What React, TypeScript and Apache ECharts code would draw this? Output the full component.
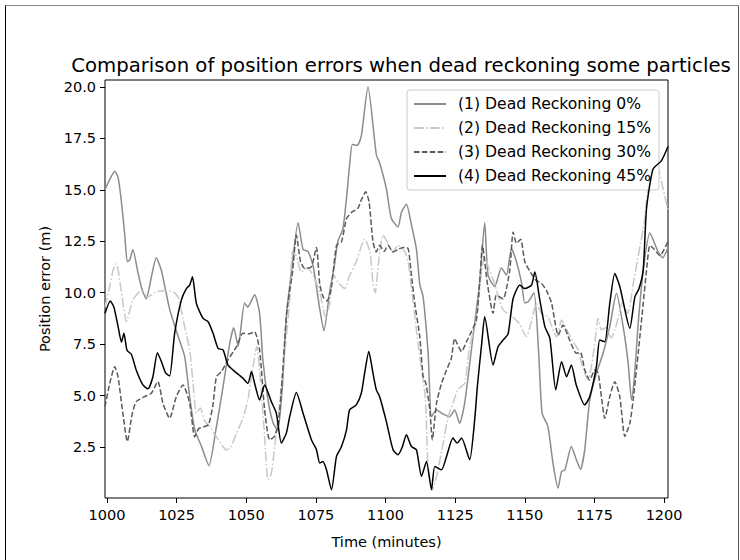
import React, { useEffect, useRef } from "react";
import * as echarts from "echarts";

const xTicks = [1000, 1025, 1050, 1075, 1100, 1125, 1150, 1175, 1200];
const yTicks = [2.5, 5, 7.5, 10, 12.5, 15, 17.5, 20];
const seriesNames = [
  "(1) Dead Reckoning 0%",
  "(2) Dead Reckoning 15%",
  "(3) Dead Reckoning 30%",
  "(4) Dead Reckoning 45%",
];

// (1) Dead Reckoning 0% : [minute, error]
const dr0: [number, number][] = [
  [999.3, 15.0], [1001, 15.5], [1002.8, 15.9], [1004, 15.6], [1005.2, 14.4], [1006.4, 12.8], [1007.3, 11.5],
  [1008.2, 11.6], [1009.3, 12.1], [1011.1, 11.0], [1012.5, 10.2], [1014.1, 9.7], [1016, 10.8], [1017.7, 11.7],
  [1019.5, 11.1], [1022.5, 9.2], [1025.5, 7.9], [1027.9, 6.9], [1029.7, 4.95], [1031.5, 3.35], [1033.9, 2.55],
  [1036.6, 1.6], [1039.3, 3.5], [1041.7, 5.45], [1044.1, 7.55], [1045.5, 8.3], [1047.1, 7.4], [1049.4, 9.5],
  [1050.5, 9.3], [1053, 9.9], [1054.8, 9.0], [1056, 6.7], [1057.8, 4.8], [1059.6, 3.7], [1061.3, 3.3],
  [1063, 5.5], [1064.5, 9.0], [1066.2, 11.0], [1068.6, 13.4], [1070.4, 12.1], [1072.2, 12.0], [1074, 11.3],
  [1076.4, 9.2], [1077.9, 8.15], [1080, 10.1], [1081.5, 11.2], [1082.9, 12.5], [1084.7, 13.1], [1086, 14.6],
  [1087.1, 16.2], [1088.1, 17.2], [1089.8, 17.15], [1091.3, 17.6], [1093.7, 20.0], [1096.7, 16.7], [1097.9, 16.3],
  [1100.3, 15.05], [1102.1, 13.6], [1104.5, 13.2], [1105.7, 13.9], [1107.5, 14.3], [1109.3, 13.3], [1111.1, 12.1],
  [1112.3, 10.4], [1113.5, 9.8], [1115.3, 7.05], [1116.5, 3.98], [1118.3, 4.3], [1120.7, 4.1], [1123, 3.98],
  [1124.8, 4.3], [1126.6, 3.66], [1128.4, 4.63], [1131.4, 7.86], [1133.8, 10.5], [1135.6, 13.4], [1136.8, 10.85],
  [1139.2, 10.3], [1141.6, 11.2], [1143.4, 10.85], [1145.2, 12.15], [1147, 11.5], [1148.8, 10.5], [1150, 9.5],
  [1151.2, 9.56], [1153.3, 10.0], [1155, 7.0], [1156.2, 4.15], [1158.3, 3.5], [1160.1, 1.73], [1161.9, 0.51],
  [1163.2, 1.32], [1164.4, 1.4], [1166.7, 2.53], [1168.5, 1.89], [1170, 1.43], [1171.5, 2.37], [1173.3, 4.79],
  [1175.7, 6.09], [1178.1, 7.06], [1180.5, 8.35], [1182.9, 9.97], [1185.3, 8.35], [1187.1, 6.57], [1188.3, 4.79],
  [1189.5, 6.2], [1190.7, 8.5], [1192.5, 11.1], [1194.9, 12.9], [1197.8, 12.0], [1199.5, 11.7], [1201.4, 12.2],
];

// (2) Dead Reckoning 15%
const dr15: [number, number][] = [
  [999.3, 9.3], [1001, 10.3], [1002.2, 11.1], [1003.4, 11.4], [1005, 10.2], [1007, 8.6], [1009.3, 9.64],
  [1012.3, 10.1], [1014.6, 9.8], [1017.7, 10.04], [1020.7, 10.1], [1023.7, 10.04], [1025.5, 9.8], [1027.9, 8.35],
  [1029.7, 7.22], [1030.9, 5.6], [1032.1, 4.15], [1033.5, 4.4], [1035, 3.8], [1036.9, 3.5], [1039.3, 3.0],
  [1042.9, 2.37], [1044.5, 2.5], [1046.5, 3.18], [1048.8, 3.9], [1050.6, 4.8], [1052.2, 6.2], [1053.8, 7.4],
  [1055.2, 5.6], [1056.6, 3.02], [1057.8, 0.92], [1059, 1.2], [1060.2, 2.53], [1062, 4.63], [1064.4, 7.86],
  [1065.6, 9.64], [1066.6, 12.0], [1068, 11.8], [1069.8, 11.0], [1072, 11.2], [1074, 10.85], [1076.4, 10.0],
  [1078.5, 8.8], [1080, 9.5], [1081.2, 10.9], [1083, 10.5], [1085.4, 10.2], [1087, 10.8], [1089.5, 11.5],
  [1092.5, 12.6], [1094.4, 12.0], [1095.5, 10.5], [1096.3, 10.0], [1097.5, 11.5], [1099.1, 12.8], [1100.5, 12.5],
  [1102.7, 12.0], [1104.5, 12.3], [1107, 11.98], [1108.1, 11.5], [1109.5, 10.0], [1111, 8.3], [1112.3, 6.9],
  [1114.3, 4.9], [1115.3, 1.4], [1116.8, 0.43], [1118.3, 1.08], [1120.7, 2.7], [1122.5, 4.0], [1124.2, 4.63],
  [1126, 5.3], [1128.4, 5.6], [1130.2, 7.38], [1132.6, 8.67], [1134, 10.5], [1135.6, 11.8], [1137, 11.2],
  [1139, 10.5], [1142.2, 9.16], [1145.8, 8.8], [1148, 8.5], [1150.6, 7.86], [1152, 8.4], [1154.2, 9.48],
  [1156, 9.0], [1158.3, 8.83], [1161.4, 7.86], [1163.2, 8.67], [1165, 8.2], [1166.7, 7.78], [1169.1, 7.22],
  [1171, 6.25], [1172.7, 5.76], [1174.8, 7.2], [1176.3, 8.75], [1177.5, 8.2], [1179, 8.3], [1181, 7.8],
  [1183, 8.5], [1185, 9.5], [1187, 9.0], [1189, 10.5], [1191, 12.0], [1193, 13.5], [1194.9, 15.9],
  [1197.3, 16.2], [1199.6, 15.06], [1201.4, 14.0],
];

// (3) Dead Reckoning 30%
const dr30: [number, number][] = [
  [999.3, 4.47], [1001, 5.6], [1002.8, 6.41], [1004, 5.9], [1005.7, 4.15], [1007.3, 2.77], [1009, 4.07],
  [1010.5, 4.71], [1013.5, 4.95], [1015.9, 5.12], [1018.3, 5.68], [1020.1, 4.63], [1022.5, 3.9], [1024.9, 4.95],
  [1027.3, 5.52], [1029.7, 4.63], [1031.5, 3.0], [1033, 3.4], [1035, 3.5], [1036.5, 3.6], [1038, 4.5],
  [1039.3, 5.92], [1041.1, 6.17], [1043.4, 6.73], [1046.5, 7.38], [1048.8, 8.03], [1051, 8.0], [1053, 8.1],
  [1054.8, 7.22], [1056.6, 4.31], [1058.4, 2.86], [1060, 3.0], [1061.5, 3.6], [1063, 6.0], [1064.5, 9.0],
  [1066.6, 11.0], [1068, 12.8], [1069.5, 11.5], [1071, 11.18], [1073.4, 11.26], [1075.2, 12.2], [1076.4, 10.4],
  [1077.6, 9.8], [1079, 9.6], [1080.5, 10.2], [1082.4, 12.3], [1084.2, 12.47], [1086, 13.6], [1087.8, 13.9],
  [1090.1, 14.1], [1091.3, 14.5], [1092.9, 14.9], [1094.1, 14.4], [1095.5, 12.47], [1096.7, 11.98], [1097.9, 12.3],
  [1099.5, 12.0], [1100.9, 12.3], [1102.7, 11.98], [1104.5, 12.1], [1106.3, 12.2], [1108.1, 12.15], [1109.3, 10.85],
  [1110.5, 9.48], [1112.3, 7.86], [1113.5, 5.92], [1114.5, 5.6], [1115.9, 4.31], [1116.8, 2.86], [1118.3, 4.63],
  [1120.1, 5.6], [1121.9, 6.25], [1123.6, 6.8], [1124.8, 7.78], [1125.8, 7.5], [1127.3, 7.14], [1129, 7.6],
  [1130.8, 8.1], [1132.6, 8.67], [1133.8, 10.5], [1134.8, 12.3], [1136.5, 10.5], [1138.6, 9.0], [1139.8, 9.88],
  [1142.2, 9.7], [1144.6, 11.1], [1145.8, 12.95], [1147, 12.4], [1148.5, 12.6], [1150, 11.5], [1152, 11.0],
  [1154, 10.6], [1156, 10.45], [1157.8, 10.1], [1159.6, 9.5], [1162, 7.94], [1163.7, 8.43], [1166.1, 7.7],
  [1168.5, 7.06], [1170, 7.1], [1171.5, 6.25], [1173.3, 5.76], [1175.1, 6.25], [1176.3, 6.1], [1177.5, 4.95],
  [1178.7, 3.9], [1180.5, 4.95], [1182.3, 5.68], [1184.1, 4.95], [1185.9, 3.02], [1187.7, 3.66], [1188.9, 4.8],
  [1190.7, 7.06], [1192.5, 9.48], [1193.7, 11.1], [1194.9, 12.3], [1196.5, 12.1], [1198.5, 11.8], [1201.4, 12.5],
];

// (4) Dead Reckoning 45%
const dr45: [number, number][] = [
  [999.3, 9.0], [1001.2, 9.6], [1002.5, 9.3], [1004, 8.35], [1005.2, 7.6], [1006.1, 8.03], [1007.2, 7.2],
  [1008.8, 7.0], [1010.5, 6.25], [1012.9, 5.52], [1014.7, 5.33], [1016.5, 5.92], [1018.1, 7.09], [1019.7, 6.6],
  [1021.1, 6.09], [1022.5, 5.96], [1024.3, 8.03], [1026.7, 9.64], [1028.5, 10.2], [1029.7, 10.37], [1030.7, 10.77],
  [1032.1, 9.48], [1034.5, 8.75], [1036.3, 8.59], [1038.1, 8.03], [1039.9, 7.3], [1041.7, 7.22], [1043.4, 6.49],
  [1045.9, 6.17], [1048.8, 5.85], [1050.6, 5.6], [1051.9, 6.17], [1053, 5.6], [1054.8, 4.79], [1056.6, 5.52],
  [1059, 4.71], [1060.8, 4.15], [1062.6, 2.7], [1064.4, 3.18], [1065.6, 3.98], [1068, 5.15], [1070.4, 4.15],
  [1073.4, 2.86], [1075.2, 2.37], [1076.4, 1.73], [1077.5, 1.8], [1078.8, 1.4], [1080.6, 0.43], [1082.4, 2.05],
  [1084.2, 2.53], [1086, 3.34], [1087.1, 4.31], [1089.5, 4.55], [1091.3, 5.12], [1092.5, 6.09], [1094, 7.14],
  [1095.5, 6.09], [1096.7, 5.28], [1097.9, 4.95], [1100.3, 3.74], [1102.7, 2.37], [1104.5, 2.13], [1106, 2.5],
  [1107.5, 3.1], [1109.3, 2.53], [1111.1, 2.37], [1112.9, 1.08], [1114.7, 1.8], [1116.5, 0.43], [1117.7, 1.56],
  [1120.1, 1.4], [1121.9, 2.05], [1124.2, 2.94], [1125.7, 2.7], [1127.3, 2.94], [1130.2, 1.89], [1132, 3.82],
  [1133, 5.5], [1134.5, 7.5], [1135.6, 8.83], [1138.6, 6.49], [1140.4, 7.38], [1142.2, 7.7], [1144, 8.0],
  [1145.8, 9.72], [1148.2, 10.37], [1150, 10.2], [1152.4, 10.37], [1153.6, 11.0], [1155.4, 9.64], [1157.2, 8.35],
  [1159, 7.78], [1161.1, 5.28], [1163.2, 6.65], [1165, 5.92], [1166.7, 6.49], [1168.5, 5.5], [1171.5, 4.55],
  [1173.3, 4.95], [1175.7, 6.41], [1176.9, 7.7], [1178.7, 7.62], [1180.5, 9.48], [1182.3, 10.93], [1184.1, 10.3],
  [1187.7, 8.27], [1189.5, 9.8], [1191, 10.2], [1192.5, 11.1], [1193.7, 14.1], [1196, 16.0], [1199, 16.4],
  [1201.4, 17.1],
];

const seriesData = [dr0, dr15, dr30, dr45];
const colors = ["#8c8c8c", "#c8c8c8", "#5a5a5a", "#000000"];
const dashes: any[] = ["solid", [9.6, 2.4, 1.5, 2.4], [5.5, 2.4], "solid"];

const FONT = "DejaVu Sans";

export default function App() {
  const ref = useRef<HTMLDivElement>(null);
  useEffect(() => {
    if (!ref.current) return;
    const chart = echarts.init(ref.current, null, { renderer: "svg" });
    chart.setOption({
      animation: false,
      backgroundColor: "#ffffff",
      textStyle: { fontFamily: FONT },
      title: {
        text: "Comparison of position errors when dead reckoning some particles",
        left: 396,
        top: 50,
        textAlign: "center",
        textStyle: { fontFamily: FONT, fontSize: 19.7, fontWeight: "normal", color: "#000" },
      },
      grid: {
        left: 105,
        right: 72,
        top: 80,
        bottom: 62,
        show: true,
        borderColor: "#000",
        borderWidth: 1,
        backgroundColor: "transparent",
      },
      legend: {
        orient: "vertical",
        left: 407,
        top: 90,
        data: seriesNames,
        itemWidth: 32,
        itemHeight: 14,
        itemGap: 8,
        padding: [6, 8, 6, 6],
        borderColor: "#cccccc",
        borderWidth: 1,
        borderRadius: 3,
        backgroundColor: "rgba(255,255,255,0.8)",
        itemStyle: { color: "rgba(0,0,0,0)", borderColor: "rgba(0,0,0,0)", borderWidth: 0, opacity: 0 },
        textStyle: { fontFamily: FONT, fontSize: 15.6, color: "#000", padding: [0, 0, 0, 7] },
      },
      xAxis: {
        type: "value",
        min: 999.3,
        max: 1201.4,
        name: "Time (minutes)",
        nameLocation: "middle",
        nameGap: 36,
        nameTextStyle: { fontFamily: FONT, fontSize: 14.5, color: "#000" },
        axisLine: { show: false },
        splitLine: { show: false },
        axisTick: { show: true, length: 5, customValues: xTicks, lineStyle: { color: "#000" } },
        axisLabel: {
          customValues: xTicks,
          fontFamily: FONT,
          fontSize: 14.5,
          color: "#000",
          margin: 9,
          formatter: (v: number) => String(v),
        },
      },
      yAxis: {
        type: "value",
        min: 0.03,
        max: 20.33,
        name: "Position error (m)",
        nameLocation: "middle",
        nameRotate: 90,
        nameGap: 48,
        nameTextStyle: { fontFamily: FONT, fontSize: 14.5, color: "#000" },
        axisLine: { show: false },
        splitLine: { show: false },
        axisTick: { show: true, length: 5, customValues: yTicks, lineStyle: { color: "#000" } },
        axisLabel: {
          customValues: yTicks,
          fontFamily: FONT,
          fontSize: 14.5,
          color: "#000",
          margin: 9,
          formatter: (v: number) => v.toFixed(1),
        },
      },
      series: seriesData.map((d, i) => ({
        name: seriesNames[i],
        type: "line",
        data: d,
        symbol: "none",
        showSymbol: false,
        smooth: 0.2,
        z: 2 + i,
        lineStyle: { color: colors[i], width: 1.5, type: dashes[i] },
        itemStyle: { color: colors[i] },
      })),
      graphic: [
        { type: "line", shape: { x1: 5.5, y1: 5.5, x2: 738.5, y2: 5.5 }, style: { stroke: "#888", lineWidth: 1 } },
        { type: "line", shape: { x1: 5.5, y1: 5.5, x2: 5.5, y2: 560 }, style: { stroke: "#000", lineWidth: 1 } },
        { type: "line", shape: { x1: 738.5, y1: 5.5, x2: 738.5, y2: 560 }, style: { stroke: "#555", lineWidth: 1 } },
      ],
    });
    return () => chart.dispose();
  }, []);
  return (
    <div
      ref={ref}
      style={{ position: "fixed", left: 0, top: 0, width: 740, height: 560, background: "#fff" }}
    />
  );
}
